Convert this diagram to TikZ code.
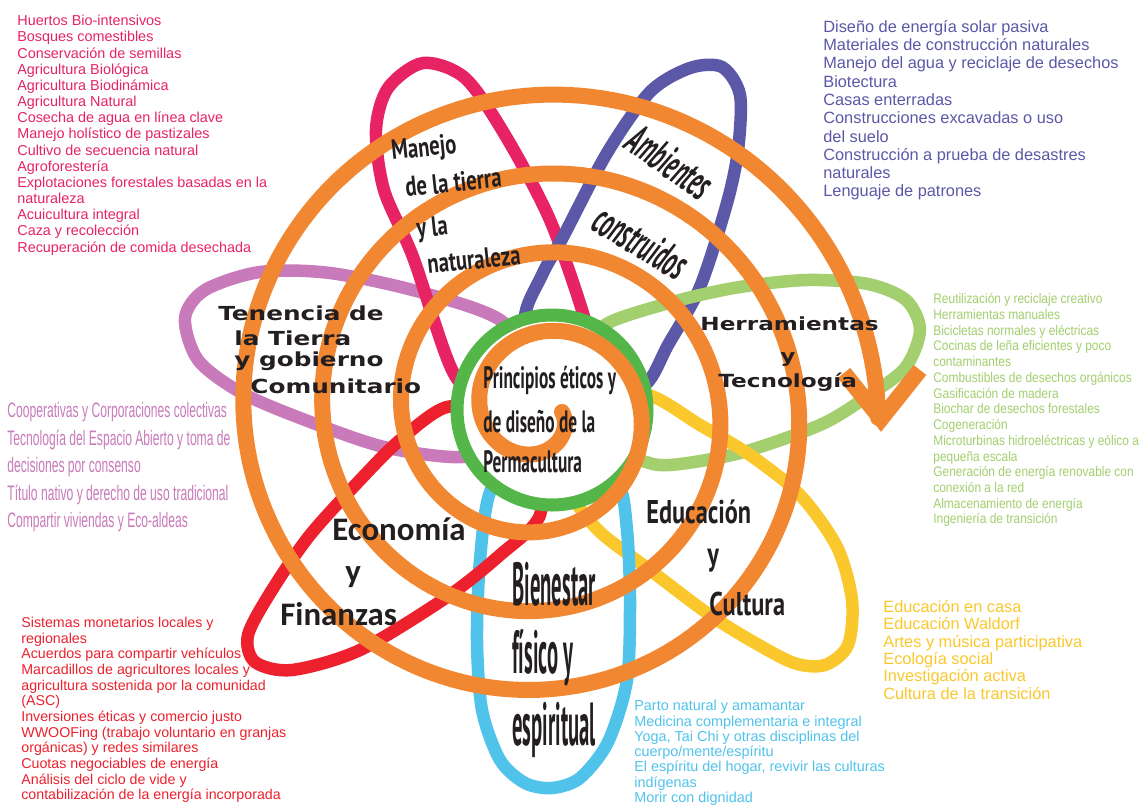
\documentclass[tikz,border=0pt]{standalone}
\usepackage{fontspec}
\setmainfont{Liberation Sans}
\newfontfamily\narrowfont[FakeStretch=0.86]{Liberation Sans}
\newfontfamily\lilacfont[FakeStretch=0.58]{Liberation Sans}
\newfontfamily\condfont[FakeStretch=0.56]{PT Sans}
\newfontfamily\ambfont[FakeStretch=0.5]{PT Sans}
\newfontfamily\semicondfont[FakeStretch=0.74]{PT Sans}
\newfontfamily\tallfont[FakeStretch=0.34]{PT Sans}
\newfontfamily\widefont[FakeStretch=1.28]{DejaVu Sans}
\newfontfamily\calfont{Carlito}
\newcommand\tightlines{\lineskiplimit=-20pt\relax}
\usepackage{tikz}
\usetikzlibrary{positioning}
\definecolor{permpink}{RGB}{232,35,100}
\definecolor{permpurple}{RGB}{92,88,168}
\definecolor{permlime}{RGB}{163,207,110}
\definecolor{permyellow}{RGB}{250,200,45}
\definecolor{permsky}{RGB}{80,195,235}
\definecolor{permred}{RGB}{236,33,45}
\definecolor{permlilac}{RGB}{200,122,186}
\definecolor{permgreen}{RGB}{84,182,72}
\definecolor{permorange}{RGB}{242,135,50}
\definecolor{labelgray}{RGB}{35,31,32}

\begin{document}
\begin{tikzpicture}[
    x=0.02cm, y=-0.02cm,
    petal/.style={line width=0.25cm},
    ring/.style={draw=permgreen, line width=0.26cm, fill=white},
    spiralline/.style={draw=permorange, line width=0.32cm, line cap=round},
    listbox/.style={anchor=north west, align=left, inner sep=0pt},
    lbl/.style={anchor=base west, inner sep=0pt, text=labelgray}
]
    \fill[white] (0,0) rectangle (1145,805);
    \useasboundingbox (0,0) rectangle (1145,805);

    % Petals
    \draw[petal, permlilac] plot[smooth cycle] coordinates {(503,322) (420,292) (330,273) (260,272) (205,290) (185,318) (198,360) (240,392) (300,418) (384,447) (462,457) (510,440) (530,380)};
    \draw[petal, permpink] plot[smooth cycle] coordinates {(453,372) (413,257) (384,190) (376,130) (388,88) (423,63) (465,78) (505,135) (550,220) (585,320) (595,375) (545,425) (490,405)};
    \draw[petal, permpurple] plot[smooth cycle] coordinates {(525,322) (542,275) (563,237) (607,153) (650,92) (690,68) (722,67) (740,95) (738,150) (727,203) (700,287) (668,345) (645,385) (600,400) (555,385)};
    \draw[petal, permlime] plot[smooth cycle] coordinates {(610,322) (680,300) (740,287) (807,280) (868,284) (906,300) (920,330) (905,368) (865,398) (820,425) (740,453) (670,465) (640,460) (595,440) (575,385) (590,345)};
    \draw[petal, permyellow] plot[smooth cycle] coordinates {(648,395) (700,425) (750,455) (800,495) (837,547) (852,600) (848,645) (825,665) (794,663) (750,640) (707,613) (650,570) (600,532) (572,495) (555,440) (595,400)};
    \draw[petal, permsky] plot[smooth cycle] coordinates {(490,492) (480,560) (477,640) (482,710) (500,760) (525,783) (552,788) (580,778) (608,742) (627,680) (630,600) (627,530) (618,482) (580,440) (520,450)};
    \draw[petal, permred] plot[smooth cycle] coordinates {(447,407) (400,440) (360,480) (310,535) (272,590) (248,635) (255,662) (292,670) (360,650) (447,597) (500,555) (540,515) (535,455) (500,415)};

    % Centre and spiral
    \draw[ring] (552,410) circle [radius=95];
    \draw[spiralline] plot[domain=0:1441, samples=720, variable=\t]
        ({541+(21+0.2194*\t)*cos(\t)}, {412+(21+0.2194*\t)*sin(\t)});
    \coordinate (tip) at (881,419);
    \draw[spiralline, line cap=butt, line join=miter] (tip) ++(-37,-46) -- (tip) -- ++(39,-49);

    % Petal names
    \node[lbl, font=\semicondfont\bfseries\fontsize{15.9}{18}\selectfont, rotate=6] (manejo1) at (392,160) {Manejo};
    \node[lbl, font=\semicondfont\bfseries\fontsize{15.9}{18}\selectfont, rotate=6] (manejo2) at (406,197) {de la tierra};
    \node[lbl, font=\semicondfont\bfseries\fontsize{15.9}{18}\selectfont, rotate=6] (manejo3) at (417,238) {y la};
    \node[lbl, font=\semicondfont\bfseries\fontsize{15.9}{18}\selectfont, rotate=6] (manejo4) at (428,274) {naturaleza};

    \node[text=labelgray, inner sep=0pt, font=\ambfont\bfseries\itshape\fontsize{25}{28}\selectfont, rotate=-35] (amb1) at (670,162) {Ambientes};
    \node[text=labelgray, inner sep=0pt, font=\ambfont\bfseries\itshape\fontsize{25}{28}\selectfont, rotate=-31] (amb2) at (641,242) {construidos};

    \node[lbl, font=\widefont\bfseries\fontsize{11}{12}\selectfont] (ten1) at (218,320) {Tenencia de};
    \node[lbl, font=\widefont\bfseries\fontsize{11}{12}\selectfont] (ten2) at (234,345) {la Tierra};
    \node[lbl, font=\widefont\bfseries\fontsize{11}{12}\selectfont] (ten3) at (234,366) {y gobierno};
    \node[lbl, font=\widefont\bfseries\fontsize{11}{12}\selectfont] (ten4) at (250,393) {Comunitario};

    \node[lbl, font=\widefont\bfseries\fontsize{10.3}{12}\selectfont] (herr1) at (700,330) {Herramientas};
    \node[lbl, font=\widefont\bfseries\fontsize{10.3}{12}\selectfont] (herr2) at (780,362) {y};
    \node[lbl, font=\widefont\bfseries\fontsize{10.3}{12}\selectfont] (herr3) at (718,387) {Tecnología};

    \node[lbl, font=\condfont\bfseries\fontsize{17.6}{20}\selectfont] (prin1) at (483,388) {Principios éticos y};
    \node[lbl, font=\condfont\bfseries\fontsize{17.6}{20}\selectfont] (prin2) at (483,432) {de diseño de la};
    \node[lbl, font=\condfont\bfseries\fontsize{17.6}{20}\selectfont] (prin3) at (483,472) {Permacultura};

    \node[lbl, font=\calfont\bfseries\fontsize{18.7}{21}\selectfont] (econ1) at (332,540) {Economía};
    \node[lbl, font=\calfont\bfseries\fontsize{18.7}{21}\selectfont] (econ2) at (345,582) {y};
    \node[lbl, font=\calfont\bfseries\fontsize{18.7}{21}\selectfont] (econ3) at (280,625) {Finanzas};

    \node[lbl, font=\semicondfont\bfseries\fontsize{18.7}{21}\selectfont] (edu1) at (646,523) {Educación};
    \node[lbl, font=\semicondfont\bfseries\fontsize{18.7}{21}\selectfont] (edu2) at (707,565) {y};
    \node[lbl, font=\semicondfont\bfseries\fontsize{18.7}{21}\selectfont] (edu3) at (709,615) {Cultura};

    \node[lbl, font=\tallfont\bfseries\fontsize{34.6}{38}\selectfont] (bien1) at (512,605) {Bienestar};
    \node[lbl, font=\tallfont\bfseries\fontsize{34.6}{38}\selectfont] (bien2) at (512,673) {físico y};
    \node[lbl, font=\tallfont\bfseries\fontsize{34.6}{38}\selectfont] (bien3) at (512,745) {espiritual};

    % Descriptions
    \node[listbox, text=permpink, font=\fontsize{8.2}{9.2}\selectfont\tightlines] (listland) at (17,15) {Huertos Bio-intensivos\\ Bosques comestibles\\ Conservación de semillas\\ Agricultura Biológica\\ Agricultura Biodinámica\\ Agricultura Natural\\ Cosecha de agua en línea clave\\ Manejo holístico de pastizales\\ Cultivo de secuencia natural\\ Agroforestería\\ Explotaciones forestales basadas en la\\ naturaleza\\ Acuicultura integral\\ Caza y recolección\\ Recuperación de comida desechada};
    \node[listbox, text=permpurple, font=\fontsize{9.3}{10.4}\selectfont\tightlines] (listbuilt) at (823,20) {Diseño de energía solar pasiva\\ Materiales de construcción naturales\\ Manejo del agua y reciclaje de desechos\\ Biotectura\\ Casas enterradas\\ Construcciones excavadas o uso\\ del suelo\\ Construcción a prueba de desastres\\ naturales\\ Lenguaje de patrones};
    \node[listbox, text=permlime, font=\narrowfont\fontsize{7.9}{8.96}\selectfont\tightlines] (listtools) at (933,293) {Reutilización y reciclaje creativo\\ Herramientas manuales\\ Bicicletas normales y eléctricas\\ Cocinas de leña eficientes y poco\\ contaminantes\\ Combustibles de desechos orgánicos\\ Gasificación de madera\\ Biochar de desechos forestales\\ Cogeneración\\ Microturbinas hidroeléctricas y eólico a\\ pequeña escala\\ Generación de energía renovable con\\ conexión a la red\\ Almacenamiento de energía\\ Ingeniería de transición};
    \node[listbox, text=permlilac, font=\lilacfont\fontsize{11.9}{15.7}\selectfont\tightlines] (listtenure) at (7,402) {Cooperativas y Corporaciones colectivas\\ Tecnología del Espacio Abierto y toma de\\ decisiones por consenso\\ Título nativo y derecho de uso tradicional\\ Compartir viviendas y Eco-aldeas};
    \node[listbox, text=permred, font=\fontsize{8.1}{8.9}\selectfont\tightlines] (listecon) at (21,617) {Sistemas monetarios locales y\\ regionales\\ Acuerdos para compartir vehículos\\ Marcadillos de agricultores locales y\\ agricultura sostenida por la comunidad\\ (ASC)\\ Inversiones éticas y comercio justo\\ WWOOFing (trabajo voluntario en granjas\\ orgánicas) y redes similares\\ Cuotas negociables de energía\\ Análisis del ciclo de vide y\\ contabilización de la energía incorporada};
    \node[listbox, text=permsky, font=\fontsize{8.2}{8.7}\selectfont\tightlines] (listhealth) at (634,700) {Parto natural y amamantar\\ Medicina complementaria e integral\\ Yoga, Tai Chi y otras disciplinas del\\ cuerpo/mente/espíritu\\ El espíritu del hogar, revivir las culturas\\ indígenas\\ Morir con dignidad};
    \node[listbox, text=permyellow, font=\fontsize{9.3}{9.9}\selectfont\tightlines] (listedu) at (883,600) {Educación en casa\\ Educación Waldorf\\ Artes y música participativa\\ Ecología social\\ Investigación activa\\ Cultura de la transición};
\end{tikzpicture}
\end{document}
